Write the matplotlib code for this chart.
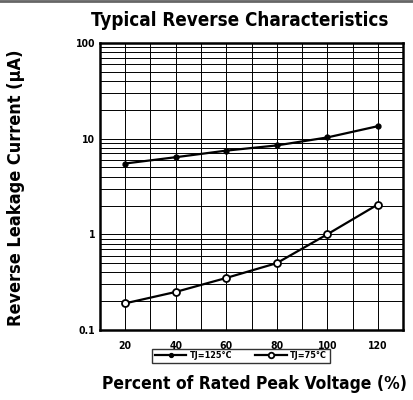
import matplotlib.pyplot as plt
from matplotlib.ticker import LogLocator, FixedLocator, NullFormatter

plt.rcParams['font.family'] = ['Liberation Sans Narrow', 'DejaVu Sans']
plt.rcParams['font.stretch'] = 'condensed'

voltage_pct = [20, 40, 60, 80, 100, 120]
leak_125 = [5.5, 6.4, 7.5, 8.5, 10.3, 13.5]
leak_75 = [0.19, 0.25, 0.35, 0.5, 1.0, 2.05]
x_ticks = [20, 40, 60, 80, 100, 120]
y_ticks = [0.1, 1, 10, 100]
y_tick_labels = ['0.1', '1', '10', '100']

fig = plt.figure(figsize=(4.14, 4.00), dpi=100)
ax = fig.add_axes([0.2415, 0.175, 0.732, 0.7175])

ax.plot(voltage_pct, leak_125, color='black', lw=1.6, marker='o', ms=3.5,
        mfc='black', mec='black', label='TJ=125°C')
ax.plot(voltage_pct, leak_75, color='black', lw=1.6, marker='o', ms=5,
        mfc='white', mec='black', mew=1.3, label='TJ=75°C')

ax.set_yscale('log')
ax.set_ylim(0.1, 100)
ax.set_xlim(10, 130)

ax.set_xticks(x_ticks)
ax.xaxis.set_minor_locator(FixedLocator(range(30, 130, 20)))
ax.set_yticks(y_ticks)
ax.set_yticklabels(y_tick_labels)
ax.yaxis.set_minor_locator(LogLocator(base=10, subs=range(2, 10)))
ax.yaxis.set_minor_formatter(NullFormatter())
ax.tick_params(which='both', length=0, labelsize=7.5)
for lab in ax.get_xticklabels() + ax.get_yticklabels():
    lab.set_fontweight('bold')
ax.tick_params(axis='x', pad=8)

ax.grid(True, which='both', color='black', lw=0.7)
for s in ax.spines.values():
    s.set_linewidth(1.8)

fig.text(0.58, 0.948, 'Typical Reverse Characteristics', ha='center', va='center',
         fontsize=13.5, fontweight='bold')
fig.text(0.038, 0.53, 'Reverse Leakage Current (µA)', ha='center', va='center',
         rotation=90, fontsize=13, fontweight='bold')
fig.text(0.614, 0.04, 'Percent of Rated Peak Voltage (%)', ha='center', va='center',
         fontsize=12.5, fontweight='bold')

leg = ax.legend(loc='center', bbox_to_anchor=(0.465, -0.09), ncol=2, frameon=True,
                fancybox=False, edgecolor='black', fontsize=6.5, handlelength=3.5,
                borderpad=0.3, columnspacing=2.5, handletextpad=0.4, markerscale=0.8)
leg.get_frame().set_linewidth(1.0)
for t in leg.get_texts():
    t.set_fontweight('bold')

fig.add_artist(plt.Line2D([0, 1], [0.998, 0.998], color='#666666', lw=2,
                          transform=fig.transFigure))

fig.savefig('out.png', dpi=100)
